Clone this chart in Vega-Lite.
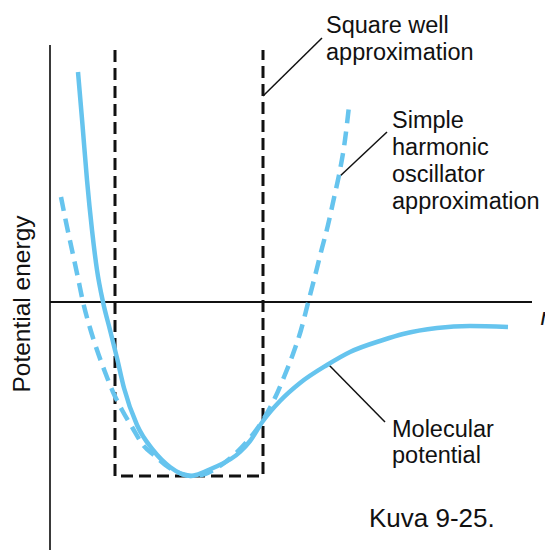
{
  "$schema": "https://vega.github.io/schema/vega-lite/v6.json",
  "width": 545,
  "height": 550,
  "autosize": {"type": "none"},
  "padding": 0,
  "background": "white",
  "config": {"view": {"stroke": null}},
  "datasets": {
    "curves": [
      {"series": "molecular", "r": 0.56, "E": 4.60},
      {"series": "molecular", "r": 0.65, "E": 3.54},
      {"series": "molecular", "r": 0.74, "E": 2.44},
      {"series": "molecular", "r": 0.84, "E": 1.44},
      {"series": "molecular", "r": 0.94, "E": 0.64},
      {"series": "molecular", "r": 1.06, "E": 0.00},
      {"series": "molecular", "r": 1.20, "E": -0.56},
      {"series": "molecular", "r": 1.34, "E": -1.12},
      {"series": "molecular", "r": 1.48, "E": -1.72},
      {"series": "molecular", "r": 1.74, "E": -2.46},
      {"series": "molecular", "r": 2.06, "E": -2.96},
      {"series": "molecular", "r": 2.40, "E": -3.30},
      {"series": "molecular", "r": 2.80, "E": -3.48},
      {"series": "molecular", "r": 3.26, "E": -3.32},
      {"series": "molecular", "r": 3.80, "E": -3.00},
      {"series": "molecular", "r": 4.00, "E": -2.78},
      {"series": "molecular", "r": 4.26, "E": -2.38},
      {"series": "molecular", "r": 4.60, "E": -1.98},
      {"series": "molecular", "r": 5.00, "E": -1.62},
      {"series": "molecular", "r": 5.54, "E": -1.26},
      {"series": "molecular", "r": 6.00, "E": -1.00},
      {"series": "molecular", "r": 6.66, "E": -0.76},
      {"series": "molecular", "r": 7.06, "E": -0.64},
      {"series": "molecular", "r": 7.74, "E": -0.52},
      {"series": "molecular", "r": 8.40, "E": -0.48},
      {"series": "molecular", "r": 9.16, "E": -0.50},
      {"series": "harmonic", "r": 0.22, "E": 2.10},
      {"series": "harmonic", "r": 0.32, "E": 1.60},
      {"series": "harmonic", "r": 0.44, "E": 1.04},
      {"series": "harmonic", "r": 0.56, "E": 0.48},
      {"series": "harmonic", "r": 0.66, "E": 0.00},
      {"series": "harmonic", "r": 0.80, "E": -0.52},
      {"series": "harmonic", "r": 0.94, "E": -0.96},
      {"series": "harmonic", "r": 1.10, "E": -1.40},
      {"series": "harmonic", "r": 1.26, "E": -1.80},
      {"series": "harmonic", "r": 1.44, "E": -2.16},
      {"series": "harmonic", "r": 1.64, "E": -2.50},
      {"series": "harmonic", "r": 1.86, "E": -2.86},
      {"series": "harmonic", "r": 2.10, "E": -3.08},
      {"series": "harmonic", "r": 2.36, "E": -3.30},
      {"series": "harmonic", "r": 2.64, "E": -3.44},
      {"series": "harmonic", "r": 2.84, "E": -3.48},
      {"series": "harmonic", "r": 3.10, "E": -3.44},
      {"series": "harmonic", "r": 3.40, "E": -3.28},
      {"series": "harmonic", "r": 3.70, "E": -3.04},
      {"series": "harmonic", "r": 4.00, "E": -2.72},
      {"series": "harmonic", "r": 4.26, "E": -2.36},
      {"series": "harmonic", "r": 4.48, "E": -1.96},
      {"series": "harmonic", "r": 4.68, "E": -1.50},
      {"series": "harmonic", "r": 4.86, "E": -1.04},
      {"series": "harmonic", "r": 5.02, "E": -0.56},
      {"series": "harmonic", "r": 5.16, "E": -0.02},
      {"series": "harmonic", "r": 5.30, "E": 0.52},
      {"series": "harmonic", "r": 5.42, "E": 1.00},
      {"series": "harmonic", "r": 5.56, "E": 1.54},
      {"series": "harmonic", "r": 5.68, "E": 2.08},
      {"series": "harmonic", "r": 5.80, "E": 2.64},
      {"series": "harmonic", "r": 5.90, "E": 3.24},
      {"series": "harmonic", "r": 5.98, "E": 3.92}
    ],
    "well": [
      {"i": 1, "r": 1.30, "E": 5.04},
      {"i": 2, "r": 1.30, "E": -3.48},
      {"i": 3, "r": 4.26, "E": -3.48},
      {"i": 4, "r": 4.26, "E": 5.04}
    ],
    "segments": [
      {"kind": "energy axis", "r1": 0, "E1": 5.14, "r2": 0, "E2": -4.96},
      {"kind": "r axis", "r1": 0, "E1": 0, "r2": 9.64, "E2": 0},
      {"kind": "leader", "r1": 4.26, "E1": 4.12, "r2": 5.44, "E2": 5.28},
      {"kind": "leader", "r1": 5.76, "E1": 2.48, "r2": 6.74, "E2": 3.40},
      {"kind": "leader", "r1": 5.56, "E1": -1.24, "r2": 6.70, "E2": -2.40}
    ],
    "labels": [
      {"kind": "callout", "text": "Square well", "r": 5.52, "E": 5.38},
      {"kind": "callout", "text": "approximation", "r": 5.52, "E": 4.84},
      {"kind": "callout", "text": "Simple", "r": 6.84, "E": 3.48},
      {"kind": "callout", "text": "harmonic", "r": 6.84, "E": 2.94},
      {"kind": "callout", "text": "oscillator", "r": 6.84, "E": 2.40},
      {"kind": "callout", "text": "approximation", "r": 6.84, "E": 1.86},
      {"kind": "callout", "text": "Molecular", "r": 6.84, "E": -2.70},
      {"kind": "callout", "text": "potential", "r": 6.84, "E": -3.22},
      {"kind": "caption", "text": "Kuva 9-25.", "r": 6.38, "E": -4.50},
      {"kind": "energy title", "text": "Potential energy", "r": -0.40, "E": -0.04},
      {"kind": "r title", "text": "r", "r": 9.81, "E": -0.46}
    ]
  },
  "layer": [
    {
      "data": {"name": "segments"},
      "transform": [{"filter": "datum.kind === 'energy axis'"}],
      "mark": {"type": "rule", "color": "#3a3a3a", "strokeWidth": 2},
      "encoding": {
        "x": {"field": "r1", "type": "quantitative", "scale": {"domain": [-1.0, 9.9], "nice": false, "zero": false}, "axis": null},
        "y": {"field": "E1", "type": "quantitative", "scale": {"domain": [-4.96, 6.04], "nice": false, "zero": false}, "axis": null},
        "x2": {"field": "r2"},
        "y2": {"field": "E2"}
      }
    },
    {
      "data": {"name": "segments"},
      "transform": [{"filter": "datum.kind === 'r axis'"}],
      "mark": {"type": "rule", "color": "#111111", "strokeWidth": 2},
      "encoding": {
        "x": {"field": "r1", "type": "quantitative", "axis": null},
        "y": {"field": "E1", "type": "quantitative", "axis": null},
        "x2": {"field": "r2"},
        "y2": {"field": "E2"}
      }
    },
    {
      "data": {"name": "segments"},
      "transform": [{"filter": "datum.kind === 'leader'"}],
      "mark": {"type": "rule", "color": "#111111", "strokeWidth": 1.5},
      "encoding": {
        "x": {"field": "r1", "type": "quantitative", "axis": null},
        "y": {"field": "E1", "type": "quantitative", "axis": null},
        "x2": {"field": "r2"},
        "y2": {"field": "E2"}
      }
    },
    {
      "data": {"name": "well"},
      "mark": {"type": "line", "color": "#111111", "strokeWidth": 3, "strokeDash": [12, 6], "interpolate": "linear"},
      "encoding": {
        "x": {"field": "r", "type": "quantitative", "axis": null},
        "y": {"field": "E", "type": "quantitative", "axis": null},
        "order": {"field": "i", "type": "quantitative"}
      }
    },
    {
      "data": {"name": "curves"},
      "transform": [{"filter": "datum.series === 'harmonic'"}],
      "mark": {"type": "line", "color": "#66C4EE", "strokeWidth": 4.5, "strokeDash": [14, 8], "strokeCap": "butt", "interpolate": "monotone"},
      "encoding": {
        "x": {"field": "r", "type": "quantitative", "axis": null},
        "y": {"field": "E", "type": "quantitative", "axis": null}
      }
    },
    {
      "data": {"name": "curves"},
      "transform": [{"filter": "datum.series === 'molecular'"}],
      "mark": {"type": "line", "color": "#66C4EE", "strokeWidth": 4.5, "interpolate": "monotone"},
      "encoding": {
        "x": {"field": "r", "type": "quantitative", "axis": null},
        "y": {"field": "E", "type": "quantitative", "axis": null}
      }
    },
    {
      "data": {"name": "labels"},
      "transform": [{"filter": "datum.kind === 'callout'"}],
      "mark": {"type": "text", "font": "Liberation Sans", "fontSize": 23.5, "color": "#111111", "align": "left", "baseline": "alphabetic"},
      "encoding": {
        "x": {"field": "r", "type": "quantitative", "axis": null},
        "y": {"field": "E", "type": "quantitative", "axis": null},
        "text": {"field": "text"}
      }
    },
    {
      "data": {"name": "labels"},
      "transform": [{"filter": "datum.kind === 'caption'"}],
      "mark": {"type": "text", "font": "Liberation Sans", "fontSize": 26, "color": "#111111", "align": "left", "baseline": "alphabetic"},
      "encoding": {
        "x": {"field": "r", "type": "quantitative", "axis": null},
        "y": {"field": "E", "type": "quantitative", "axis": null},
        "text": {"field": "text"}
      }
    },
    {
      "data": {"name": "labels"},
      "transform": [{"filter": "datum.kind === 'energy title'"}],
      "mark": {"type": "text", "font": "Liberation Sans", "fontSize": 24.5, "color": "#111111", "align": "center", "baseline": "alphabetic", "angle": 270},
      "encoding": {
        "x": {"field": "r", "type": "quantitative", "axis": null},
        "y": {"field": "E", "type": "quantitative", "axis": null},
        "text": {"field": "text"}
      }
    },
    {
      "data": {"name": "labels"},
      "transform": [{"filter": "datum.kind === 'r title'"}],
      "mark": {"type": "text", "font": "Liberation Sans", "fontSize": 24, "fontStyle": "italic", "color": "#111111", "align": "left", "baseline": "alphabetic"},
      "encoding": {
        "x": {"field": "r", "type": "quantitative", "axis": null},
        "y": {"field": "E", "type": "quantitative", "axis": null},
        "text": {"field": "text"}
      }
    }
  ]
}
